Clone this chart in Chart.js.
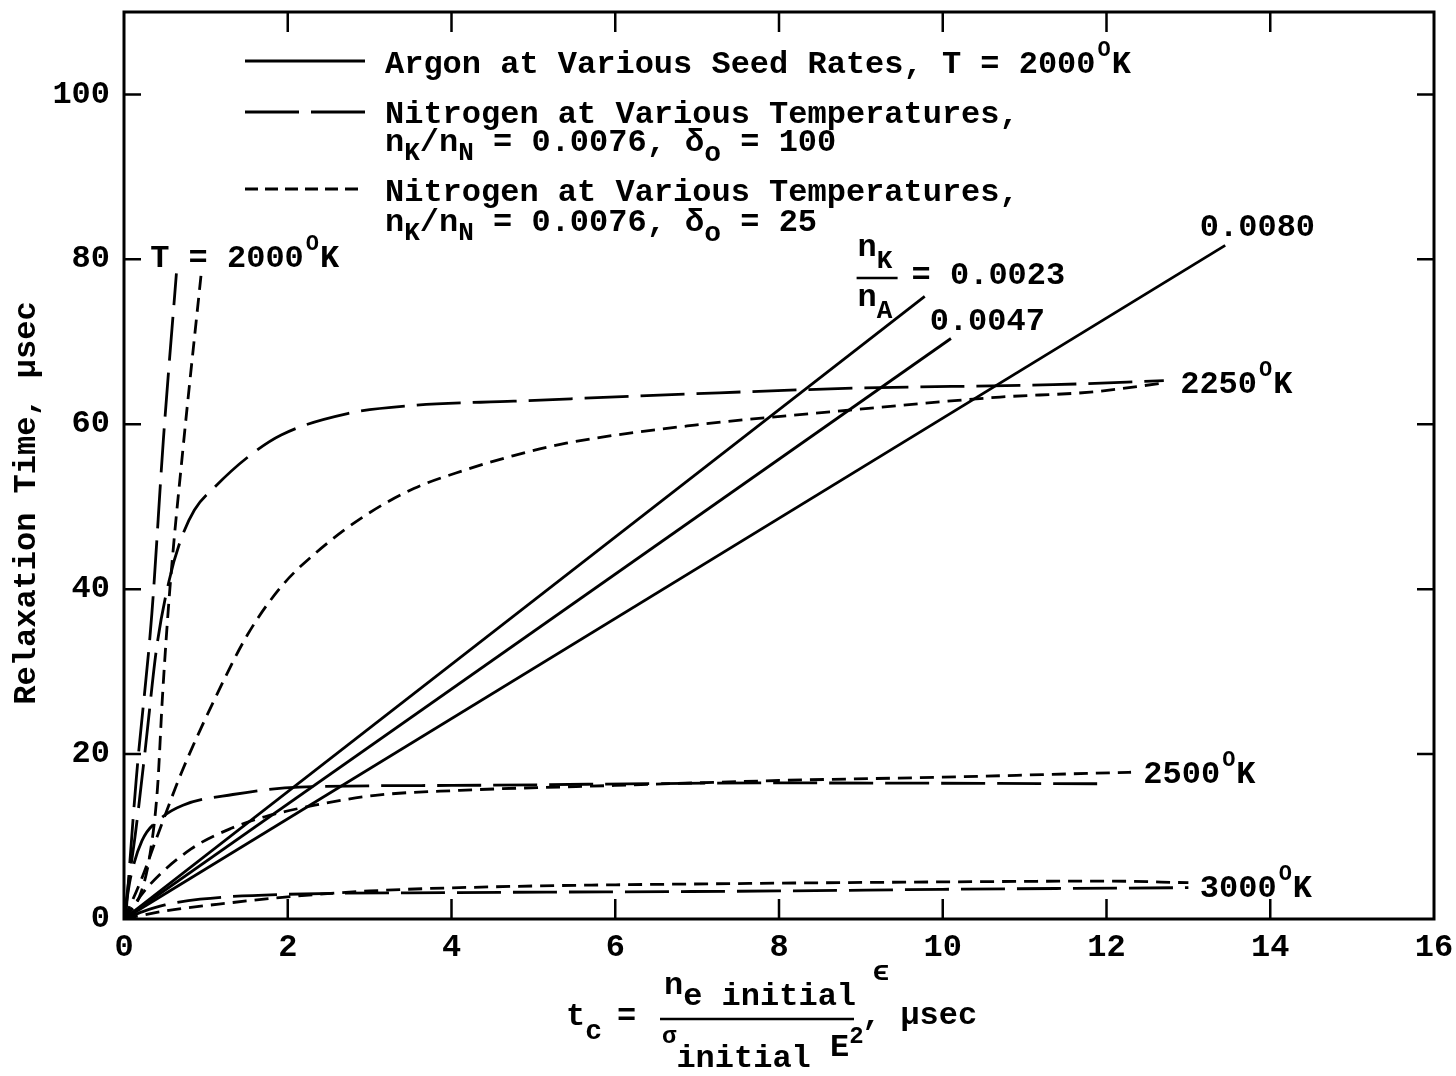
<!DOCTYPE html>
<html>
<head>
<meta charset="utf-8">
<script src="https://cdn.jsdelivr.net/npm/chart.js@4.4.1/dist/chart.umd.min.js"></script>
<style>
  html, body { margin: 0; background: #fff; }
</style>
</head>
<body>
<canvas id="chart" width="1456" height="1076"></canvas>
<script>
// x = t_c (usec), y = relaxation time (usec)
// Argon, T = 2000 K, various seed rates nK/nA (solid)
const argon0023 = [[0, 0], [9.78, 75.5]];
const argon0047 = [[0, 0], [10.1, 70.4]];
const argon0080 = [[0, 0], [13.45, 81.7]];

// Nitrogen, nK/nN = 0.0076, delta_o = 100 (long dash)
const n100T2000 = [[0.02, 0], [0.15, 17], [0.34, 37], [0.48, 58], [0.64, 78.3]];
const n100T2250 = [[0, 0], [0.05, 4], [0.14, 10.4], [0.26, 20.6], [0.4, 33], [0.55, 41], [0.68, 45.6],
  [0.86, 49.6], [1.11, 52.4], [1.51, 56], [1.92, 58.7], [2.73, 61.3], [3.54, 62.3], [4.76, 62.8],
  [6.97, 63.7], [9, 64.4], [11.35, 64.8], [12.7, 65.3]];
const n100T2500 = [[0, 0], [0.08, 5], [0.22, 9.5], [0.45, 12.2], [0.72, 13.8], [1.33, 15.1],
  [2.14, 16.0], [4, 16.2], [8, 16.5], [12, 16.4]];
const n100T3000 = [[0, 0], [0.23, 0.9], [0.5, 1.7], [0.93, 2.4], [2, 3.0], [4, 3.2], [8, 3.4],
  [10, 3.6], [13, 3.8]];

// Nitrogen, nK/nN = 0.0076, delta_o = 25 (short dash)
const n25T2000 = [[0, 0], [0.2, 3], [0.32, 8], [0.41, 16], [0.47, 27], [0.56, 40], [0.72, 57], [0.94, 78]];
const n25T2250 = [[0, 0], [0.2, 4.5], [0.42, 10.4], [0.7, 17.7], [1.1, 26.5], [1.51, 34.5],
  [1.92, 40.3], [2.33, 44.3], [2.94, 48.9], [3.54, 52.2], [4.15, 54.4], [4.76, 56.2], [5.4, 57.7],
  [6.97, 59.9], [8.85, 61.7], [10.7, 63.3], [11.8, 63.9], [12.7, 65]];
const n25T2500 = [[0, 0], [0.3, 4], [0.82, 8.5], [1.31, 11], [1.72, 12.4], [2.33, 13.8], [3.07, 15],
  [4.1, 15.6], [6, 16.2], [8, 16.8], [10, 17.2], [12.3, 17.8]];
const n25T3000 = [[0, 0], [0.52, 1.0], [1.33, 2.0], [1.9, 2.6], [3, 3.4], [4.5, 3.9], [7.5, 4.3],
  [10, 4.5], [12, 4.6], [13, 4.4]];

const xTicks = [0, 2, 4, 6, 8, 10, 12, 14, 16];
const yTicks = [0, 20, 40, 60, 80, 100];

const FONT = '"Liberation Mono", "DejaVu Sans Mono", monospace';
const LONG_DASH = [44, 12];
const SHORT_DASH = [14, 8];

const pts = arr => arr.map(([x, y]) => ({ x, y }));
const series = (data, dash) => ({
  data: pts(data),
  borderColor: '#000',
  borderWidth: 2.8,
  borderDash: dash,
  pointRadius: 0,
  fill: false,
  cubicInterpolationMode: 'monotone'
});

// draws a run of text pieces (sub/superscripts via dy and size)
function rich(ctx, x, y, parts) {
  parts.forEach(p => {
    ctx.font = `bold ${p.s || 32}px ${FONT}`;
    ctx.fillText(p.t, x + (p.dx || 0), y + (p.dy || 0));
    x += ctx.measureText(p.t).width + (p.dx || 0);
  });
  return x;
}
const deg = [{ t: 'O', s: 22, dy: -17, dx: 2 }, { t: 'K', dx: 1 }];

const decorPlugin = {
  id: 'decor',
  afterDraw(chart) {
    const { ctx, chartArea: a, scales: { x: xs, y: ys } } = chart;
    const px = v => xs.getPixelForValue(v);
    const py = v => ys.getPixelForValue(v);
    ctx.save();
    ctx.strokeStyle = '#000';
    ctx.fillStyle = '#000';
    ctx.setLineDash([]);

    // frame + inward ticks on all sides
    ctx.lineWidth = 3;
    ctx.strokeRect(a.left, a.top, a.right - a.left, a.bottom - a.top);
    ctx.lineWidth = 2.5;
    ctx.beginPath();
    xTicks.slice(1, -1).forEach(v => {
      ctx.moveTo(px(v), a.bottom); ctx.lineTo(px(v), a.bottom - 20);
      ctx.moveTo(px(v), a.top); ctx.lineTo(px(v), a.top + 20);
    });
    yTicks.slice(1).forEach(v => {
      ctx.moveTo(a.left, py(v)); ctx.lineTo(a.left + 17, py(v));
      ctx.moveTo(a.right, py(v)); ctx.lineTo(a.right - 17, py(v));
    });
    ctx.stroke();

    // legend
    ctx.textAlign = 'left';
    ctx.textBaseline = 'alphabetic';
    const sampleL = 245, sampleR = 365, textX = 385;
    [[61, []], [112, [54, 12]], [189, [13, 7]]].forEach(([yy, dash]) => {
      ctx.lineWidth = 2.8;
      ctx.setLineDash(dash);
      ctx.beginPath(); ctx.moveTo(sampleL, yy); ctx.lineTo(sampleR, yy); ctx.stroke();
    });
    ctx.setLineDash([]);
    rich(ctx, textX, 73, [{ t: 'Argon at Various Seed Rates, T = 2000' }, ...deg]);
    rich(ctx, textX, 123, [{ t: 'Nitrogen at Various Temperatures,' }]);
    const ratio = d => [{ t: 'n' }, { t: 'K', s: 26, dy: 9 }, { t: '/n' }, { t: 'N', s: 26, dy: 9 },
      { t: ' = 0.0076, δ' }, { t: 'o', s: 28, dy: 10 }, { t: ' = ' + d }];
    rich(ctx, textX, 151, ratio('100'));
    rich(ctx, textX, 201, [{ t: 'Nitrogen at Various Temperatures,' }]);
    rich(ctx, textX, 231, ratio('25'));

    // curve labels
    rich(ctx, px(0.32), py(79.1), [{ t: 'T = 2000' }, ...deg]);
    const fx = px(8.96), fy = py(80.4);
    rich(ctx, fx, fy, [{ t: 'n' }, { t: 'K', s: 26, dy: 12 }]);
    ctx.lineWidth = 2.5;
    ctx.beginPath(); ctx.moveTo(fx - 1, fy + 22); ctx.lineTo(fx + 40, fy + 22); ctx.stroke();
    rich(ctx, fx, fy + 50, [{ t: 'n' }, { t: 'A', s: 26, dy: 12 }]);
    rich(ctx, fx + 54, fy + 28, [{ t: '= 0.0023' }]);
    rich(ctx, px(9.84), py(71.4), [{ t: '0.0047' }]);
    rich(ctx, px(13.14), py(82.8), [{ t: '0.0080' }]);
    rich(ctx, px(12.9), py(63.8), [{ t: '2250' }, ...deg]);
    rich(ctx, px(12.45), py(16.5), [{ t: '2500' }, ...deg]);
    rich(ctx, px(13.14), py(2.7), [{ t: '3000' }, ...deg]);

    // x axis title: t_c = n_e initial eps / (sigma_initial E^2), usec
    rich(ctx, 566, 1025, [{ t: 't' }, { t: 'c', s: 28, dy: 14 }]);
    rich(ctx, 617, 1025, [{ t: '=' }]);
    ctx.lineWidth = 2.5;
    ctx.beginPath(); ctx.moveTo(660, 1019); ctx.lineTo(854, 1019); ctx.stroke();
    rich(ctx, 664, 994, [{ t: 'n' }, { t: 'e initial', dy: 11 }, { t: ' ϵ', s: 28, dy: -14 }]);
    rich(ctx, 662, 1043, [{ t: 'σ', s: 24 }, { t: 'initial', dy: 24 }, { t: ' E', dy: 13 }, { t: '2', s: 24, dy: 0 }]);
    rich(ctx, 862, 1024, [{ t: ', µsec' }]);

    // y axis title
    ctx.translate(27, 503);
    ctx.rotate(-Math.PI / 2);
    ctx.textAlign = 'center';
    ctx.textBaseline = 'middle';
    ctx.font = `bold 32px ${FONT}`;
    ctx.fillText('Relaxation Time, µsec', 0, 0);
    ctx.restore();
  }
};

new Chart(document.getElementById('chart'), {
  type: 'line',
  data: {
    datasets: [
      series(argon0023, []), series(argon0047, []), series(argon0080, []),
      series(n100T2000, LONG_DASH), series(n100T2250, LONG_DASH),
      series(n100T2500, LONG_DASH), series(n100T3000, LONG_DASH),
      series(n25T2000, SHORT_DASH), series(n25T2250, SHORT_DASH),
      series(n25T2500, SHORT_DASH), series(n25T3000, SHORT_DASH)
    ]
  },
  options: {
    responsive: false,
    devicePixelRatio: 1,
    animation: false,
    layout: { padding: { left: 0, top: 12, right: 22, bottom: 0 } },
    plugins: { legend: { display: false }, tooltip: { enabled: false } },
    scales: {
      x: {
        type: 'linear', min: 0, max: 16,
        afterBuildTicks: s => { s.ticks = xTicks.map(v => ({ value: v })); },
        afterFit: s => { s.height = 157; s.paddingLeft = 0; s.paddingRight = 0; },
        grid: { display: false, drawTicks: false },
        border: { display: false },
        ticks: { color: '#000', padding: 10, maxRotation: 0, font: { family: FONT, size: 32, weight: 'bold' } }
      },
      y: {
        type: 'linear', min: 0, max: 110,
        afterBuildTicks: s => { s.ticks = yTicks.map(v => ({ value: v })); },
        afterFit: s => { s.width = 124; s.paddingTop = 0; s.paddingBottom = 0; },
        grid: { display: false, drawTicks: false },
        border: { display: false },
        ticks: { color: '#000', padding: 14, font: { family: FONT, size: 32, weight: 'bold' } }
      }
    }
  },
  plugins: [decorPlugin]
});
</script>
</body>
</html>
